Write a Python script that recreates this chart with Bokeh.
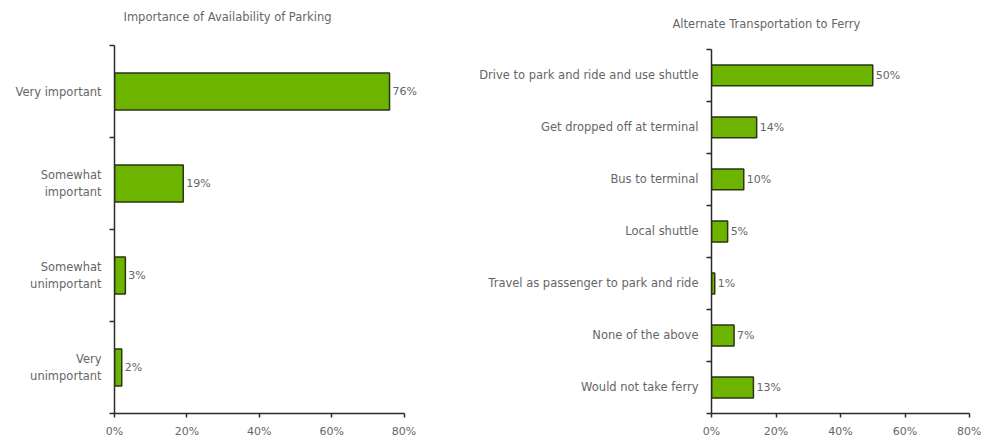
from bokeh.plotting import figure
from bokeh.layouts import row
from bokeh.models import FixedTicker, PrintfTickFormatter, Range1d, ColumnDataSource, LabelSet, Title
from bokeh.core.properties import value
from bokeh.embed import file_html
from bokeh.resources import INLINE

# ---- data ----
parking_title = "Importance of Availability of Parking"
parking_cats = ["Very important", "Somewhat\nimportant", "Somewhat\nunimportant", "Very\nunimportant"]
parking_vals = [76, 19, 3, 2]

transport_title = "Alternate Transportation to Ferry"
transport_cats = [
    "Drive to park and ride and use shuttle",
    "Get dropped off at terminal",
    "Bus to terminal",
    "Local shuttle",
    "Travel as passenger to park and ride",
    "None of the above",
    "Would not take ferry",
]
transport_vals = [50, 14, 10, 5, 1, 7, 13]

x_ticks = [0, 20, 40, 60, 80]

FONT = "DejaVu Sans"
TXT = "#666666"
AX = "#2b2b2b"
FILL = "#6cb400"
EDGE = "#2a3612"


def make(cats, vals, title, width, xmax, yhi, bl, br, t_off, gap, fs, lfs, tfs):
    n = len(cats)
    ys = [n - i - 0.5 for i in range(n)]
    labels = [f"{v}%" for v in vals]
    src = ColumnDataSource(dict(y=ys, v=vals, lab=labels))
    p = figure(width=width, height=440, output_backend="svg", toolbar_location=None,
               x_range=Range1d(0, xmax), y_range=Range1d(0, yhi),
               min_border_left=bl, min_border_right=br, min_border_top=45, min_border_bottom=26)
    # spacer between frame and title, then the title itself
    p.add_layout(Title(text=" ", text_font_size="10px", standoff=gap), "above")
    p.add_layout(Title(text=title, align="left", offset=t_off, standoff=0,
                       text_font=FONT, text_font_size=tfs, text_font_style="normal",
                       text_color=TXT), "above")
    p.hbar(y="y", right="v", left=0, height=0.4, source=src,
           fill_color=FILL, line_color=EDGE, line_width=1.5)
    p.add_layout(LabelSet(x="v", y="y", text="lab", source=src, x_offset=3,
                          text_baseline="middle", text_font=value(FONT), text_font_size=value(fs),
                          text_color=TXT))
    p.xgrid.visible = False
    p.ygrid.visible = False
    p.outline_line_color = None

    ya = p.yaxis[0]
    ya.ticker = FixedTicker(ticks=ys, minor_ticks=list(range(n + 1)))
    ya.bounds = (0, n)
    ya.major_label_overrides = {y: c for y, c in zip(ys, cats)}
    ya.major_tick_line_color = None
    ya.major_tick_out = 0
    ya.major_tick_in = 0
    ya.minor_tick_line_color = AX
    ya.minor_tick_out = 5
    ya.minor_tick_in = 0
    ya.axis_line_color = AX
    ya.axis_line_width = 1.5
    ya.minor_tick_line_width = 1.5
    ya.major_label_text_font = FONT
    ya.major_label_text_font_size = lfs
    ya.major_label_text_color = TXT
    ya.major_label_standoff = 8

    xa = p.xaxis[0]
    xa.ticker = FixedTicker(ticks=x_ticks, minor_ticks=[])
    xa.bounds = (x_ticks[0], x_ticks[-1])
    xa.formatter = PrintfTickFormatter(format="%d%%")
    xa.axis_line_color = AX
    xa.axis_line_width = 1.5
    xa.major_tick_line_color = AX
    xa.major_tick_line_width = 1.5
    xa.major_tick_out = 4
    xa.major_tick_in = 0
    xa.minor_tick_line_color = None
    xa.major_label_text_font = FONT
    xa.major_label_text_font_size = fs
    xa.major_label_text_color = TXT
    xa.major_label_standoff = 7
    return p


left = make(parking_cats, parking_vals, parking_title, 460, 84, 4,
            114, 42, 9, 9, "11px", "11.5px", "11.5px")
right = make(transport_cats, transport_vals, transport_title, 521, 80, 7.076,
             251, 12, -39, 2, "11px", "11.5px", "11.5px")

layout = row(left, right)
open("out.html", "w").write(file_html(layout, INLINE))
